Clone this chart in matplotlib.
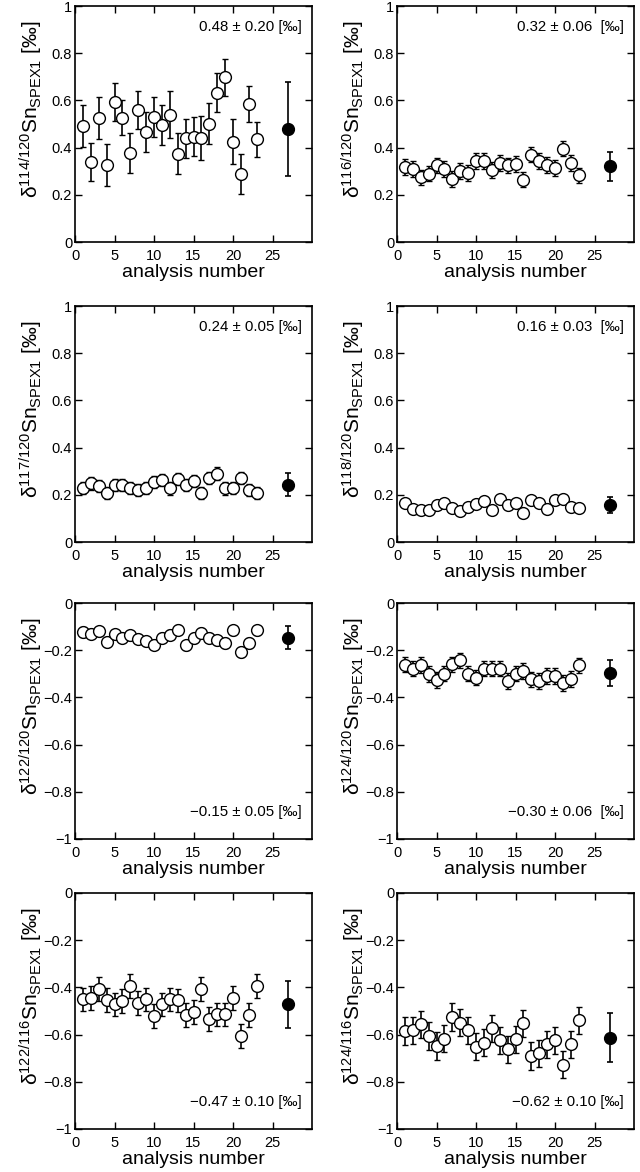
import matplotlib
matplotlib.use('Agg')
import matplotlib.pyplot as plt
from matplotlib.ticker import FuncFormatter, MultipleLocator, FixedLocator

plt.rcParams['font.family'] = ['Liberation Sans', 'DejaVu Sans']
plt.rcParams['mathtext.fontset'] = 'custom'
plt.rcParams['mathtext.rm'] = 'Liberation Sans'
plt.rcParams['mathtext.default'] = 'regular'

# ── data ──
analysis = [1, 2, 3, 4, 5, 6, 7, 8, 9, 10, 11, 12, 13, 14, 15, 16, 17, 18, 19, 20, 21, 22, 23]
mean_x = 27

d114_120 = [0.492, 0.338, 0.525, 0.327, 0.592, 0.527, 0.378, 0.560, 0.467, 0.529, 0.496, 0.539,
            0.375, 0.439, 0.447, 0.439, 0.502, 0.633, 0.698, 0.425, 0.290, 0.584, 0.436]
e114_120 = [0.09, 0.08, 0.09, 0.09, 0.08, 0.075, 0.085, 0.08, 0.085, 0.085, 0.083, 0.10,
            0.088, 0.084, 0.083, 0.093, 0.088, 0.082, 0.078, 0.095, 0.085, 0.077, 0.074]

d116_120 = [0.318, 0.310, 0.274, 0.290, 0.325, 0.310, 0.268, 0.301, 0.293, 0.343, 0.344, 0.306,
            0.335, 0.325, 0.331, 0.264, 0.370, 0.343, 0.327, 0.314, 0.396, 0.335, 0.282]
e116_120 = [0.033] * 23

d117_120 = [0.230, 0.248, 0.237, 0.209, 0.241, 0.241, 0.228, 0.221, 0.230, 0.255, 0.264, 0.227,
            0.268, 0.243, 0.258, 0.207, 0.271, 0.290, 0.227, 0.228, 0.272, 0.221, 0.207]
e117_120 = [0.026] * 23

d118_120 = [0.165, 0.141, 0.137, 0.137, 0.155, 0.164, 0.145, 0.133, 0.150, 0.161, 0.172, 0.134,
            0.183, 0.158, 0.164, 0.123, 0.176, 0.166, 0.138, 0.176, 0.181, 0.147, 0.142]
e118_120 = [0.012] * 23

d122_120 = [-0.123, -0.130, -0.120, -0.165, -0.133, -0.147, -0.137, -0.151, -0.162, -0.176, -0.147, -0.134,
            -0.113, -0.179, -0.148, -0.127, -0.147, -0.158, -0.169, -0.116, -0.207, -0.169, -0.116]
e122_120 = [0.02] * 23

d124_120 = [-0.261, -0.278, -0.262, -0.300, -0.327, -0.299, -0.260, -0.243, -0.299, -0.316, -0.278, -0.278,
            -0.278, -0.331, -0.299, -0.288, -0.324, -0.330, -0.310, -0.309, -0.338, -0.322, -0.264]
e124_120 = [0.033] * 23

d122_116 = [-0.451, -0.444, -0.406, -0.454, -0.472, -0.458, -0.394, -0.465, -0.451, -0.520, -0.472, -0.451,
            -0.455, -0.517, -0.503, -0.408, -0.535, -0.514, -0.514, -0.444, -0.606, -0.517, -0.394]
e122_116 = [0.05] * 23

d124_116 = [-0.585, -0.582, -0.556, -0.606, -0.648, -0.617, -0.525, -0.549, -0.582, -0.651, -0.634, -0.573,
            -0.624, -0.663, -0.620, -0.552, -0.690, -0.680, -0.641, -0.624, -0.728, -0.641, -0.539]
e124_116 = [0.058] * 23

means = [0.48, 0.32, 0.243, 0.157, -0.147, -0.296, -0.471, -0.614]
mean_err = [0.20, 0.063, 0.048, 0.035, 0.049, 0.056, 0.10, 0.104]
mean_text = ['0.48 ± 0.20 [‰]', '0.32 ± 0.06  [‰]', '0.24 ± 0.05 [‰]', '0.16 ± 0.03  [‰]',
             '\u22120.15 ± 0.05 [‰]', '\u22120.30 ± 0.06  [‰]', '\u22120.47 ± 0.10 [‰]', '\u22120.62 ± 0.10 [‰]']
ratios = ['114/120', '116/120', '117/120', '118/120', '122/120', '124/120', '122/116', '124/116']
series = [(d114_120, e114_120), (d116_120, e116_120), (d117_120, e117_120), (d118_120, e118_120),
          (d122_120, e122_120), (d124_120, e124_120), (d122_116, e122_116), (d124_116, e124_116)]
xticks = [0, 5, 10, 15, 20, 25]

W, H = 640, 1172
fig = plt.figure(figsize=(W / 100, H / 100), dpi=100)

col_left = [75, 397]
row_top = [6, 306, 603, 893]
aw, ah = 237, 236

fmt = FuncFormatter(lambda v, p: ('\u2212' if v < -1e-9 else '') + ('%g' % abs(round(v, 3))))

for i, ((vals, errs), ratio) in enumerate(zip(series, ratios)):
    r, c = divmod(i, 2)
    ax = fig.add_axes([col_left[c] / W, 1 - (row_top[r] + ah) / H, aw / W, ah / H])
    ax.errorbar(analysis, vals, yerr=errs, fmt='o', mfc='white', mec='black', ecolor='black',
                ms=8.5, mew=1.0, elinewidth=1.2, capsize=2, capthick=1.2, zorder=3)
    ax.errorbar([mean_x], [means[i]], yerr=[mean_err[i]], fmt='o', mfc='black', mec='black',
                ecolor='black', ms=8.5, elinewidth=1.2, capsize=2, capthick=1.2, zorder=3)
    ax.set_xlim(0, 30)
    if r < 2:
        ax.set_ylim(0, 1)
        ty = 0.91
    else:
        ax.set_ylim(-1, 0)
        ty = 0.115
    ax.xaxis.set_major_locator(FixedLocator(xticks))
    ax.yaxis.set_major_locator(MultipleLocator(0.2))
    ax.yaxis.set_major_formatter(fmt)
    ax.tick_params(direction='in', top=True, right=True, length=5, width=1, labelsize=10.5, pad=2)
    ax.tick_params(axis='x', pad=5)
    for s in ax.spines.values():
        s.set_linewidth(1.2)
    ax.set_xlabel('analysis number', fontsize=14, labelpad=1)
    ax.set_ylabel('δ$^{' + ratio + '}$Sn$_{SPEX1}$ [‰]', fontsize=15, labelpad=1)
    ax.yaxis.set_label_coords(-0.125, 0.56)
    ax.text(0.958, ty, mean_text[i], transform=ax.transAxes, ha='right', va='center', fontsize=10.8)

fig.savefig('out.png', dpi=100)
